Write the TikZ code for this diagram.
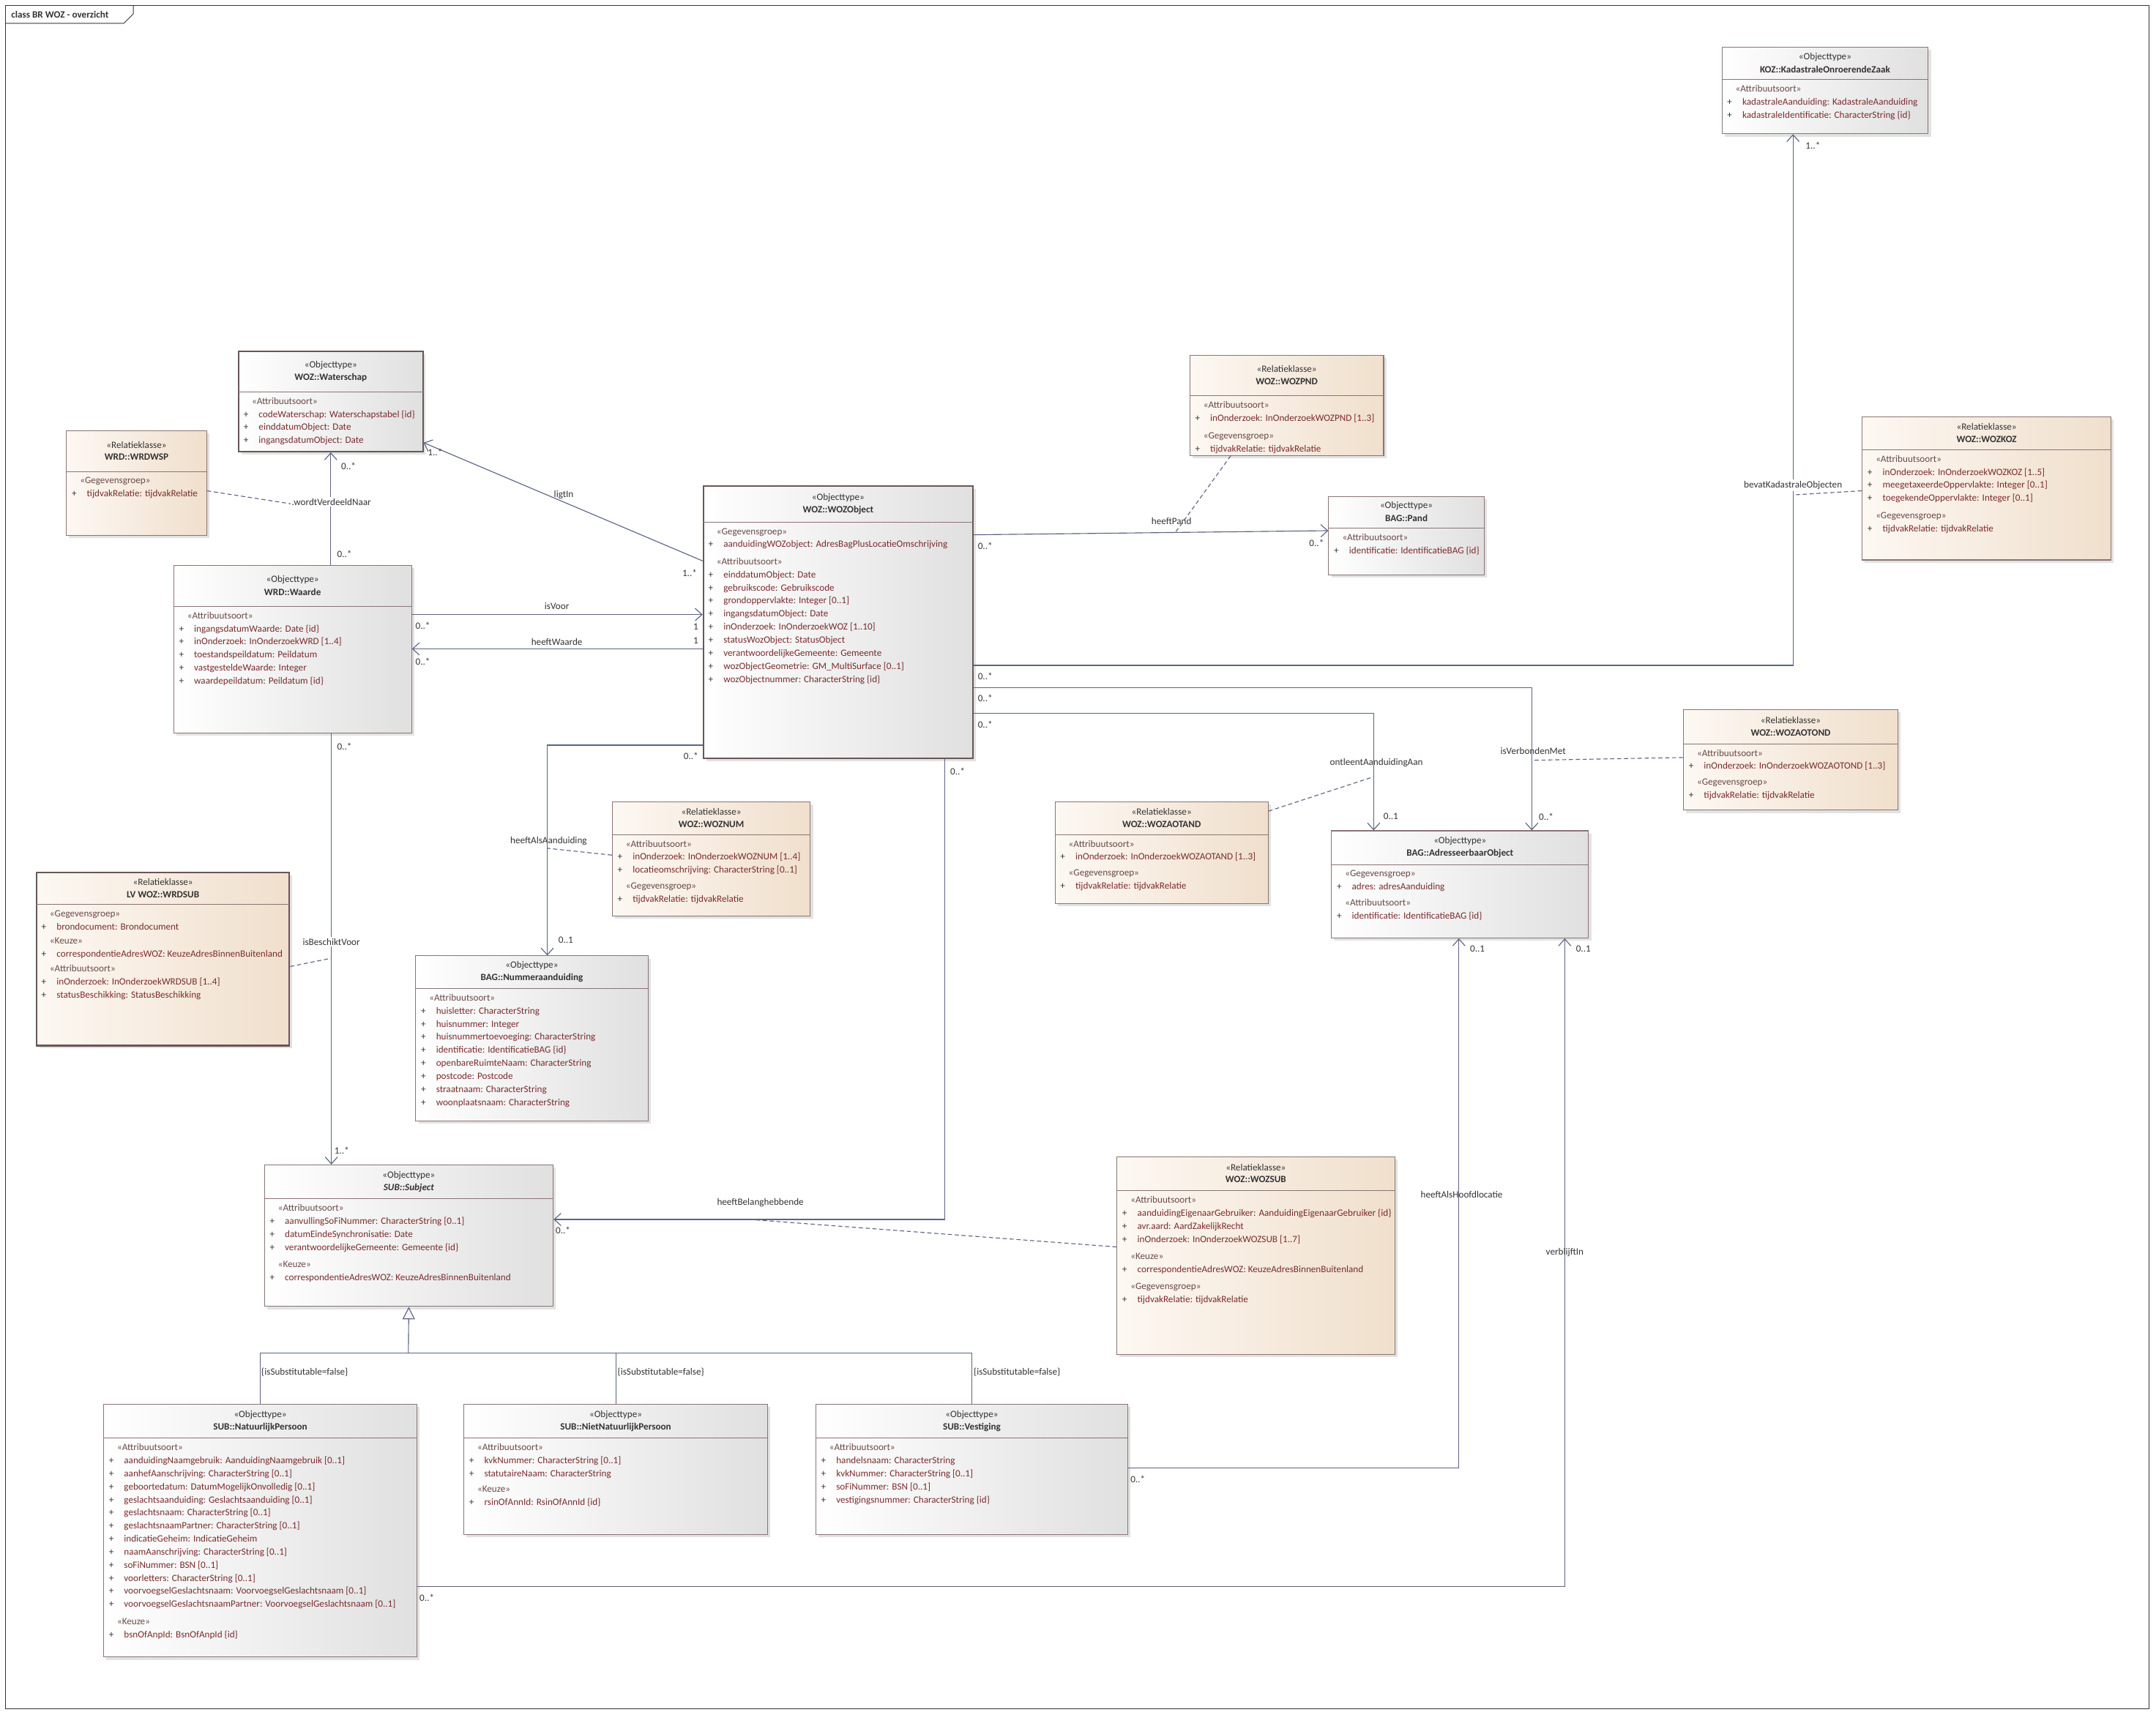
\documentclass[tikz,border=0pt]{standalone}
\usepackage{fontspec}
\setmainfont{Carlito}
\usetikzlibrary{arrows.meta,shadows,positioning}
\definecolor{umlrand}{HTML}{8A7474}
\definecolor{umldonker}{HTML}{6A5656}
\definecolor{lnk}{HTML}{5B6384}
\definecolor{atc}{HTML}{7A2C2C}
\definecolor{stc}{HTML}{6A4848}
\definecolor{ttc}{HTML}{333333}
\definecolor{objr}{HTML}{E0E0E0}
\definecolor{rell}{HTML}{FDF8F3}
\definecolor{relr}{HTML}{F0DFCC}
\newcommand\sect[1]{\hspace*{7pt}\textcolor{stc}{«#1»}}
\newcommand\att[1]{\makebox[12pt][l]{\hspace*{1pt}\textcolor{ttc}{+}}\textcolor{atc}{#1}}
\newcommand\umlbox[9]{%
  \node[#2, minimum width=#4pt, minimum height=#5pt, anchor=north west] (#1) at (#3) {};
  \draw[sep] ([yshift=-#6pt]#1.north west) -- ([yshift=-#6pt]#1.north east);
  \node[stereo] at ([yshift=-(#6/2-4.5)*1pt]#1.north) {«#7»};
  \node[title] at ([yshift=-(#6/2+4.5)*1pt]#1.north) {#8};
  \node[body] at ([xshift=3pt,yshift=-(#6+4)*1pt]#1.north west) {#9};}
\begin{document}
\begin{tikzpicture}[x=1pt,y=-1pt,
  objt/.style={draw=umlrand,line width=0.6pt,left color=white,right color=objr,
    drop shadow={shadow xshift=2pt,shadow yshift=-2pt,fill=black!22},inner sep=0},
  relk/.style={objt,left color=rell,right color=relr},
  dik/.style={draw=umldonker,line width=1.1pt},
  sep/.style={draw=umlrand,line width=0.6pt},
  stereo/.style={font=\fontsize{7}{8}\selectfont,text=ttc,inner sep=0},
  title/.style={font=\fontsize{7}{8}\selectfont\bfseries,text=ttc,inner sep=0},
  body/.style={anchor=north west,align=left,inner sep=0,font=\fontsize{7}{9.5}\selectfont},
  assoc/.style={draw=lnk,line width=0.6pt,-{Straight Barb[length=5pt,width=9pt]}},
  lijn/.style={draw=lnk,line width=0.6pt},
  gen/.style={draw=lnk,line width=0.6pt,-{Triangle[open,length=9pt,width=9pt,fill=gray!8]}},
  rel/.style={draw=lnk,line width=0.6pt,dash pattern=on 3pt off 2pt},
  lbl/.style={font=\fontsize{7}{8}\selectfont,text=ttc,inner sep=0}]
\useasboundingbox (0,0) rectangle (1568,1247);
\fill[white] (0,0) rectangle (1568,1247);
% frame
\draw[draw=ttc,line width=0.5pt] (4,4) rectangle (1563,1243);
\draw[draw=ttc,line width=0.5pt] (4,17) -- (90,17) -- (97,10) -- (97,4);
\node[lbl,anchor=west,font=\fontsize{7}{8}\selectfont\bfseries] (kader) at (8,10.5) {class BR WOZ - overzicht};

% classes
\umlbox{waterschap}{objt,dik}{173,255}{134}{73}{30}{Objecttype}{WOZ::Waterschap}
  {\sect{Attribuutsoort}\\ \att{codeWaterschap: Waterschapstabel \{id\}}\\ \att{einddatumObject: Date}\\ \att{ingangsdatumObject: Date}}
\umlbox{wrdwsp}{relk}{48,313}{102}{76}{30}{Relatieklasse}{WRD::WRDWSP}
  {\sect{Gegevensgroep}\\ \att{tijdvakRelatie: tijdvakRelatie}}
\umlbox{waarde}{objt}{126,411}{173}{122}{30}{Objecttype}{WRD::Waarde}
  {\sect{Attribuutsoort}\\ \att{ingangsdatumWaarde: Date \{id\}}\\ \att{inOnderzoek: InOnderzoekWRD [1..4]}\\
   \att{toestandspeildatum: Peildatum}\\ \att{vastgesteldeWaarde: Integer}\\ \att{waardepeildatum: Peildatum \{id\}}}
\umlbox{wozobj}{objt,dik}{511,353}{196}{198}{27}{Objecttype}{WOZ::WOZObject}
  {\sect{Gegevensgroep}\\ \att{aanduidingWOZobject: AdresBagPlusLocatieOmschrijving}\\[3pt]
   \sect{Attribuutsoort}\\ \att{einddatumObject: Date}\\ \att{gebruikscode: Gebruikscode}\\
   \att{grondoppervlakte: Integer [0..1]}\\ \att{ingangsdatumObject: Date}\\ \att{inOnderzoek: InOnderzoekWOZ [1..10]}\\
   \att{statusWozObject: StatusObject}\\ \att{verantwoordelijkeGemeente: Gemeente}\\
   \att{wozObjectGeometrie: GM\_MultiSurface [0..1]}\\ \att{wozObjectnummer: CharacterString \{id\}}}
\umlbox{wozpnd}{relk}{865,258}{141}{73}{30}{Relatieklasse}{WOZ::WOZPND}
  {\sect{Attribuutsoort}\\ \att{inOnderzoek: InOnderzoekWOZPND [1..3]}\\[3pt] \sect{Gegevensgroep}\\ \att{tijdvakRelatie: tijdvakRelatie}}
\umlbox{pand}{objt}{966,361}{113}{57}{23}{Objecttype}{BAG::Pand}
  {\sect{Attribuutsoort}\\ \att{identificatie: IdentificatieBAG \{id\}}}
\umlbox{koz}{objt}{1252,34}{150}{63}{24}{Objecttype}{KOZ::KadastraleOnroerendeZaak}
  {\sect{Attribuutsoort}\\ \att{kadastraleAanduiding: KadastraleAanduiding}\\ \att{kadastraleIdentificatie: CharacterString \{id\}}}
\umlbox{wozkoz}{relk}{1354,303}{181}{104}{24}{Relatieklasse}{WOZ::WOZKOZ}
  {\sect{Attribuutsoort}\\ \att{inOnderzoek: InOnderzoekWOZKOZ [1..5]}\\ \att{meegetaxeerdeOppervlakte: Integer [0..1]}\\
   \att{toegekendeOppervlakte: Integer [0..1]}\\[3pt] \sect{Gegevensgroep}\\ \att{tijdvakRelatie: tijdvakRelatie}}
\umlbox{wozaotond}{relk}{1224,516}{156}{73}{25}{Relatieklasse}{WOZ::WOZAOTOND}
  {\sect{Attribuutsoort}\\ \att{inOnderzoek: InOnderzoekWOZAOTOND [1..3]}\\[2pt] \sect{Gegevensgroep}\\ \att{tijdvakRelatie: tijdvakRelatie}}
\umlbox{adres}{objt}{968,604}{187}{78}{25}{Objecttype}{BAG::AdresseerbaarObject}
  {\sect{Gegevensgroep}\\ \att{adres: adresAanduiding}\\[2pt] \sect{Attribuutsoort}\\ \att{identificatie: IdentificatieBAG \{id\}}}
\umlbox{wozaotand}{relk}{767,583}{155}{74}{24}{Relatieklasse}{WOZ::WOZAOTAND}
  {\sect{Attribuutsoort}\\ \att{inOnderzoek: InOnderzoekWOZAOTAND [1..3]}\\[2pt] \sect{Gegevensgroep}\\ \att{tijdvakRelatie: tijdvakRelatie}}
\umlbox{woznum}{relk}{445,583}{144}{83}{24}{Relatieklasse}{WOZ::WOZNUM}
  {\sect{Attribuutsoort}\\ \att{inOnderzoek: InOnderzoekWOZNUM [1..4]}\\ \att{locatieomschrijving: CharacterString [0..1]}\\[2pt]
   \sect{Gegevensgroep}\\ \att{tijdvakRelatie: tijdvakRelatie}}
\umlbox{nummer}{objt}{302,695}{169}{120}{24}{Objecttype}{BAG::Nummeraanduiding}
  {\sect{Attribuutsoort}\\ \att{huisletter: CharacterString}\\ \att{huisnummer: Integer}\\ \att{huisnummertoevoeging: CharacterString}\\
   \att{identificatie: IdentificatieBAG \{id\}}\\ \att{openbareRuimteNaam: CharacterString}\\ \att{postcode: Postcode}\\
   \att{straatnaam: CharacterString}\\ \att{woonplaatsnaam: CharacterString}}
\umlbox{wrdsub}{relk,dik}{26,634}{184}{126}{24}{Relatieklasse}{LV WOZ::WRDSUB}
  {\sect{Gegevensgroep}\\ \att{brondocument: Brondocument}\\[1pt] \sect{Keuze}\\ \att{correspondentieAdresWOZ: KeuzeAdresBinnenBuitenland}\\[1pt]
   \sect{Attribuutsoort}\\ \att{inOnderzoek: InOnderzoekWRDSUB [1..4]}\\ \att{statusBeschikking: StatusBeschikking}}
\umlbox{subject}{objt}{192,847}{210}{103}{25}{Objecttype}{\itshape SUB::Subject}
  {\sect{Attribuutsoort}\\ \att{aanvullingSoFiNummer: CharacterString [0..1]}\\ \att{datumEindeSynchronisatie: Date}\\
   \att{verantwoordelijkeGemeente: Gemeente \{id\}}\\[3pt] \sect{Keuze}\\ \att{correspondentieAdresWOZ: KeuzeAdresBinnenBuitenland}}
\umlbox{wozsub}{relk}{812,841}{202}{144}{25}{Relatieklasse}{WOZ::WOZSUB}
  {\sect{Attribuutsoort}\\ \att{aanduidingEigenaarGebruiker: AanduidingEigenaarGebruiker \{id\}}\\ \att{avr.aard: AardZakelijkRecht}\\
   \att{inOnderzoek: InOnderzoekWOZSUB [1..7]}\\[3pt] \sect{Keuze}\\ \att{correspondentieAdresWOZ: KeuzeAdresBinnenBuitenland}\\[3pt]
   \sect{Gegevensgroep}\\ \att{tijdvakRelatie: tijdvakRelatie}}
\umlbox{np}{objt}{75,1021}{228}{184}{25}{Objecttype}{SUB::NatuurlijkPersoon}
  {\sect{Attribuutsoort}\\ \att{aanduidingNaamgebruik: AanduidingNaamgebruik [0..1]}\\ \att{aanhefAanschrijving: CharacterString [0..1]}\\
   \att{geboortedatum: DatumMogelijkOnvolledig [0..1]}\\ \att{geslachtsaanduiding: Geslachtsaanduiding [0..1]}\\
   \att{geslachtsnaam: CharacterString [0..1]}\\ \att{geslachtsnaamPartner: CharacterString [0..1]}\\
   \att{indicatieGeheim: IndicatieGeheim}\\ \att{naamAanschrijving: CharacterString [0..1]}\\ \att{soFiNummer: BSN [0..1]}\\
   \att{voorletters: CharacterString [0..1]}\\ \att{voorvoegselGeslachtsnaam: VoorvoegselGeslachtsnaam [0..1]}\\
   \att{voorvoegselGeslachtsnaamPartner: VoorvoegselGeslachtsnaam [0..1]}\\[3pt] \sect{Keuze}\\ \att{bsnOfAnpId: BsnOfAnpId \{id\}}}
\umlbox{nnp}{objt}{337,1021}{221}{95}{25}{Objecttype}{SUB::NietNatuurlijkPersoon}
  {\sect{Attribuutsoort}\\ \att{kvkNummer: CharacterString [0..1]}\\ \att{statutaireNaam: CharacterString}\\[2pt]
   \sect{Keuze}\\ \att{rsinOfAnnId: RsinOfAnnId \{id\}}}
\umlbox{vest}{objt}{593,1021}{227}{95}{25}{Objecttype}{SUB::Vestiging}
  {\sect{Attribuutsoort}\\ \att{handelsnaam: CharacterString}\\ \att{kvkNummer: CharacterString [0..1]}\\
   \att{soFiNummer: BSN [0..1]}\\ \att{vestigingsnummer: CharacterString \{id\}}}

% associations
\draw[assoc] (waarde.north -| waterschap.south) -- (waterschap.south);
\draw[assoc] (wozobj.west |- 0,408) -- (waterschap.east |- 0,322);
\draw[assoc] (waarde.east |- 0,447) -- (wozobj.west |- 0,447);
\draw[assoc] (wozobj.west |- 0,472) -- (waarde.east |- 0,472);
\draw[assoc] (wozobj.east |- 0,389) -- (pand.west |- 0,386);
\draw[assoc] (wozobj.east |- 0,484) -| (koz.south -| 1304,0);
\draw[assoc] (wozobj.east |- 0,500) -| (adres.north -| 1114,0);
\draw[assoc] (wozobj.east |- 0,519) -| (adres.north -| 999,0);
\draw[assoc] (wozobj.west |- 0,542) -| (nummer.north -| 398,0);
\draw[assoc] (waarde.south -| 241,0) -- (subject.north -| 241,0);
\draw[assoc] (wozobj.south -| 687,0) |- (subject.east |- 0,887);
\draw[assoc] (vest.east |- 0,1068) -| (adres.south -| 1061,0);
\draw[assoc] (np.east |- 0,1154) -| (adres.south -| 1138,0);

% generalisation
\coordinate (genj) at (297,984);
\draw[lijn] (np.north) |- (genj) -| (vest.north);
\draw[lijn] (nnp.north) -- (nnp.north |- genj);
\draw[gen] (genj) -- (subject.south);

% association classes
\coordinate (wvn) at (215,367);
\coordinate (hpd) at (855,387);
\coordinate (bko) at (1304,360);
\coordinate (ivm) at (1114,553);
\coordinate (oaa) at (999,565);
\coordinate (haa) at (398,617);
\coordinate (ibv) at (241,697);
\coordinate (hbh) at (545,887);
\draw[rel] (wrdwsp.east |- 0,357) -- (wvn);
\draw[rel] (wozpnd.south -| 895,0) -- (hpd);
\draw[rel] (wozkoz.west |- 0,357) -- (bko);
\draw[rel] (wozaotond.west |- 0,551) -- (ivm);
\draw[rel] (wozaotand.east |- 0,590) -- (oaa);
\draw[rel] (woznum.west |- 0,622) -- (haa);
\draw[rel] (wrdsub.east |- 0,703) -- (ibv);
\draw[rel] (wozsub.west |- 0,907) -- (hbh);

% labels
\node[lbl,fill=white,inner sep=1pt] at (241,365) {.wordtVerdeeldNaar};
\node[lbl,anchor=west] at (248,339) {0..*};
\node[lbl,anchor=west] at (245,403) {0..*};
\node[lbl] at (410,360) {ligtIn};
\node[lbl,anchor=west] at (311,329) {1..*};
\node[lbl,anchor=east] at (507,417) {1..*};
\node[lbl] at (405,441) {isVoor};
\node[lbl,anchor=west] at (302,455) {0..*};
\node[lbl,anchor=east] at (508,456) {1};
\node[lbl] at (405,467) {heeftWaarde};
\node[lbl,anchor=east] at (508,466) {1};
\node[lbl,anchor=west] at (302,481) {0..*};
\node[lbl] at (852,379) {heeftPand};
\node[lbl,anchor=west] at (711,397) {0..*};
\node[lbl,anchor=east] at (963,395) {0..*};
\node[lbl,fill=white,inner sep=1pt] at (1304,353) {bevatKadastraleObjecten};
\node[lbl,anchor=west] at (1313,106) {1..*};
\node[lbl,anchor=west] at (711,492) {0..*};
\node[lbl] at (1115,546) {isVerbondenMet};
\node[lbl,anchor=west] at (1119,594) {0..*};
\node[lbl,anchor=west] at (711,508) {0..*};
\node[lbl] at (1001,555) {ontleentAanduidingAan};
\node[lbl,anchor=west] at (1006,594) {0..1};
\node[lbl,anchor=west] at (711,527) {0..*};
\node[lbl] at (399,612) {heeftAlsAanduiding};
\node[lbl,anchor=east] at (508,550) {0..*};
\node[lbl,anchor=west] at (406,684) {0..1};
\node[lbl,fill=white,inner sep=1pt] at (241,685) {isBeschiktVoor};
\node[lbl,anchor=west] at (245,543) {0..*};
\node[lbl,anchor=west] at (243,837) {1..*};
\node[lbl] at (553,875) {heeftBelanghebbende};
\node[lbl,anchor=west] at (691,561) {0..*};
\node[lbl,anchor=west] at (404,895) {0..*};
\node[lbl] at (1063,869) {heeftAlsHoofdlocatie};
\node[lbl,anchor=west] at (822,1076) {0..*};
\node[lbl,anchor=west] at (1069,690) {0..1};
\node[lbl] at (1138,911) {verblijftIn};
\node[lbl,anchor=west] at (305,1162) {0..*};
\node[lbl,anchor=west] at (1146,690) {0..1};
\node[lbl,anchor=west] at (190,998) {\{isSubstitutable=false\}};
\node[lbl,anchor=west] at (449,998) {\{isSubstitutable=false\}};
\node[lbl,anchor=west] at (708,998) {\{isSubstitutable=false\}};
\end{tikzpicture}
\end{document}
